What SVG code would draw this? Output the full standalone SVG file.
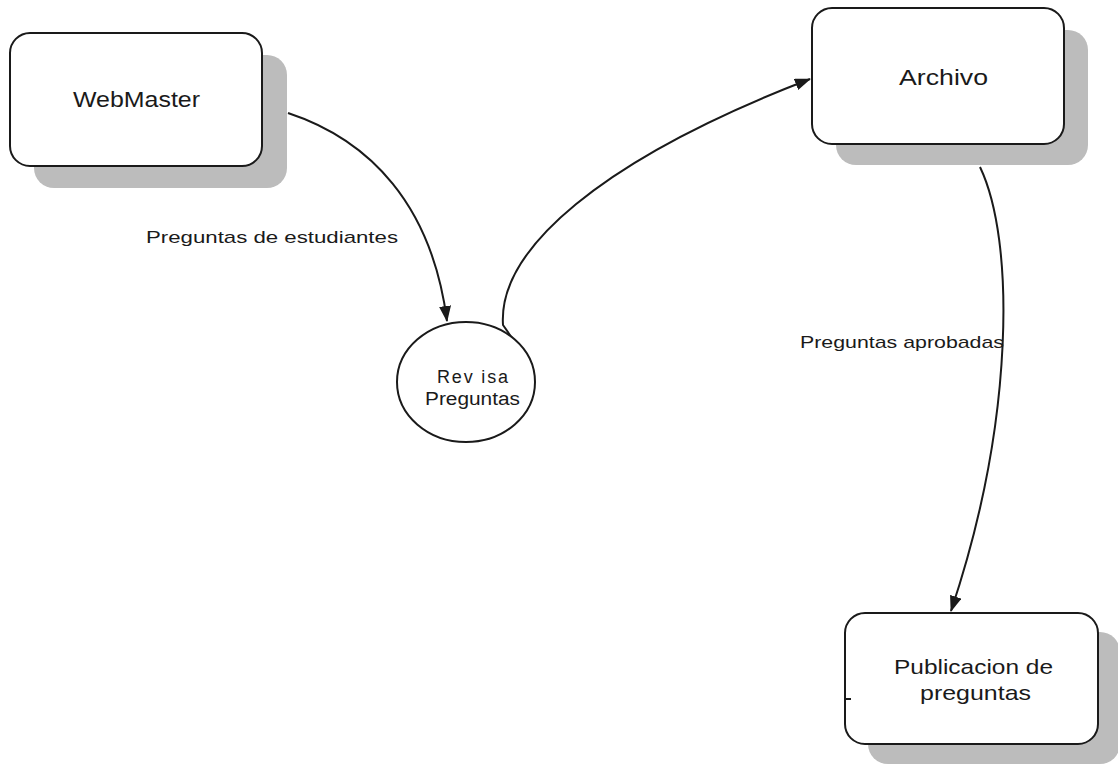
<svg xmlns="http://www.w3.org/2000/svg" width="1118" height="764" viewBox="0 0 1118 764">
<style>
.box{fill:#fff;stroke:#1a1a1a;stroke-width:2}
.shadow{fill:#bcbcbc}
.t{font-family:"Liberation Sans",Arial,sans-serif;fill:#1a1a1a}
.c{fill:none;stroke:#1a1a1a;stroke-width:2}
</style>
<defs>
<marker id="ah" markerWidth="16" markerHeight="12" refX="15" refY="6" orient="auto" markerUnits="userSpaceOnUse">
<path d="M0,0 L16,6 L0,12 Z" fill="#1a1a1a"/>
</marker>
</defs>
<g id="connectors">
<path class="c" d="M288,113 C370,140 432,205 447,321" marker-end="url(#ah)"/>
<path class="c" d="M512,338 L503,325 C498,250 600,160 810,79" marker-end="url(#ah)"/>
<path class="c" d="M980,167 C1015,240 1015,420 951,611" marker-end="url(#ah)"/>
</g>
<g id="webmaster">
<rect class="shadow" x="34" y="55" width="253" height="133" rx="20"/>
<rect class="box" x="10" y="33" width="252" height="133" rx="20"/>
<text class="t" x="73" y="107" font-size="22" textLength="127" lengthAdjust="spacingAndGlyphs">WebMaster</text>
</g>
<g id="archivo">
<rect class="shadow" x="836" y="30" width="252" height="135" rx="20"/>
<rect class="box" x="812" y="8" width="252" height="136" rx="20"/>
<text class="t" x="899" y="85" font-size="22" textLength="89" lengthAdjust="spacingAndGlyphs">Archivo</text>
</g>
<g id="publicacion">
<rect class="shadow" x="868" y="632" width="252" height="132" rx="20"/>
<rect class="box" x="845" y="613" width="253" height="131" rx="20"/>
<text class="t" x="894" y="674" font-size="21" textLength="159" lengthAdjust="spacingAndGlyphs">Publicacion de</text>
<text class="t" x="920" y="700" font-size="21" textLength="111" lengthAdjust="spacingAndGlyphs">preguntas</text>
<line x1="844" y1="699" x2="851" y2="699" stroke="#1a1a1a" stroke-width="2"/>
</g>
<g id="revisa">
<ellipse class="box" cx="466" cy="382" rx="69" ry="60"/>
<text class="t" x="437" y="383" font-size="18" textLength="71" lengthAdjust="spacing">Rev isa</text>
<text class="t" x="425" y="405" font-size="18" textLength="95" lengthAdjust="spacingAndGlyphs">Preguntas</text>
</g>
<g id="labels">
<text class="t" x="146" y="243" font-size="17" textLength="252" lengthAdjust="spacingAndGlyphs">Preguntas de estudiantes</text>
<text class="t" x="800" y="348" font-size="17" textLength="204" lengthAdjust="spacingAndGlyphs">Preguntas aprobadas</text>
</g>
</svg>
